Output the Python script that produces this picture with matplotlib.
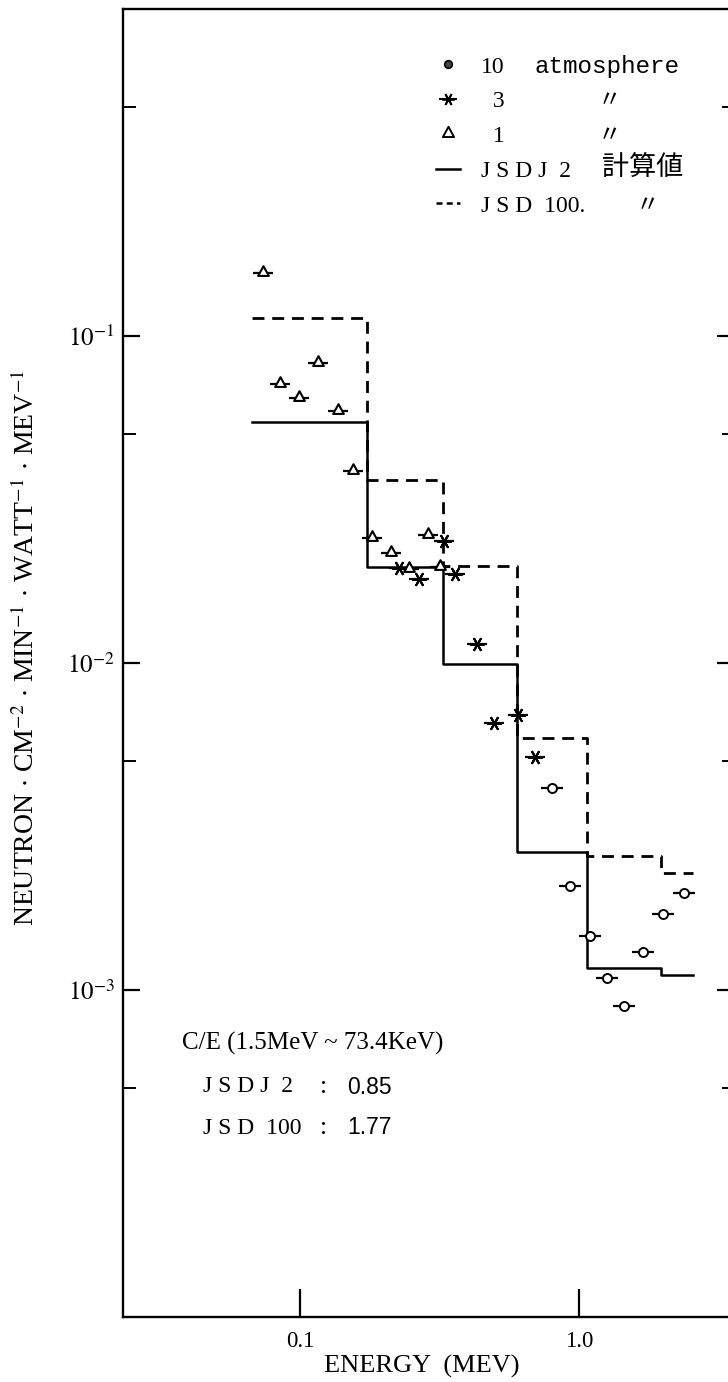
import matplotlib
matplotlib.use("Agg")
import matplotlib.pyplot as plt
from matplotlib.lines import Line2D
from matplotlib.path import Path
from matplotlib.ticker import FixedLocator, FixedFormatter, NullFormatter, NullLocator
from matplotlib.legend_handler import HandlerTuple

plt.rcParams['font.family'] = ['Liberation Serif', 'Noto Sans CJK JP']
plt.rcParams['mathtext.fontset'] = 'stix'

# ---- calculated group fluxes (step histograms) ----
group_edges = [0.06713, 0.1730, 0.3239, 0.5966, 1.068, 1.963, 2.562]
jsdj2_flux = [0.0546, 0.01956, 0.0099, 0.00264, 0.001164, 0.00111]
jsd100_flux = [0.1132, 0.0363, 0.0198, 0.00588, 0.00257, 0.00227]

# ---- measured spectra ----
atm1_energy = [0.0733, 0.0846, 0.0992, 0.116, 0.1368, 0.1549, 0.1803, 0.2109,
               0.2453, 0.2861, 0.3167]
atm1_flux = [0.1553, 0.0711, 0.0644, 0.0823, 0.059, 0.0387, 0.024, 0.0216,
             0.0194, 0.0246, 0.0196]

atm3_energy = [0.2258, 0.267, 0.3281, 0.3584, 0.4288, 0.4946, 0.6045, 0.6936]
atm3_flux = [0.0195, 0.018, 0.0235, 0.0187, 0.0114, 0.00654, 0.00693, 0.00513]

atm10_energy = [0.7963, 0.9262, 1.0924, 1.2539, 1.4463, 1.696, 1.9907, 2.3782]
atm10_flux = [0.00413, 0.00207, 0.00146, 0.001085, 0.000889, 0.001306,
              0.001702, 0.00197]

# ---- axis ticks ----
x_tick_values = [0.1, 1.0]
x_tick_labels = ["0.1", "1.0"]
y_tick_values = [1e-3, 1e-2, 1e-1]
y_tick_labels = [r"$10^{-3}$", r"$10^{-2}$", r"$10^{-1}$"]
y_minor_values = [5e-4, 5e-3, 5e-2, 5e-1]

legend_keys = ["10", "\u20073", "\u20071",
               "J\u2005S\u2005D\u2005J\u20022",
               "J\u2005S\u2005D\u2002100."]
legend_rest = ["atmosphere", "\u3003", "\u3003", "計算値", "\u3003"]

W, H = 728, 1382


def fx(px):
    return px / W


def fy(py):
    return 1 - py / H


fig = plt.figure(figsize=(W / 100, H / 100), dpi=100)
fig.patch.set_facecolor('white')

left_px, right_px, top_px, bottom_px = 123, 734, 8.7, 1316.7
ax = fig.add_axes([fx(left_px), fy(bottom_px),
                   (right_px - left_px) / W, (bottom_px - top_px) / H])
ax.set_xscale('log')
ax.set_yscale('log')
ax.set_xlim(0.02314, 3.585)
ax.set_ylim(1e-4, 1.0)

for s in ax.spines.values():
    s.set_linewidth(1.7)

# histogram steps
ax.step(group_edges, jsdj2_flux + [jsdj2_flux[-1]], where='post',
        color='k', lw=1.8)
ax.step(group_edges, jsd100_flux + [jsd100_flux[-1]], where='post',
        color='k', lw=2.0, ls=(0, (4.3, 2.8)))

# triangle sitting on its bar
tri = Path([(-0.55, -0.25), (0.55, -0.25), (0.0, 0.75), (-0.55, -0.25)],
           [Path.MOVETO, Path.LINETO, Path.LINETO, Path.CLOSEPOLY])
asterisk = (6, 2, 90)

ax.plot(atm1_energy, atm1_flux, ls='none', marker='_', ms=15, mew=1.6,
        color='k', zorder=4)
ax.plot(atm1_energy, atm1_flux, ls='none', marker=tri, ms=10.5, mfc='white',
        mec='k', mew=1.5, zorder=5)

ax.plot(atm3_energy, atm3_flux, ls='none', marker='_', ms=14, mew=1.6,
        color='k', zorder=4)
ax.plot(atm3_energy, atm3_flux, ls='none', marker=asterisk, ms=10.5, mew=1.5,
        color='k', zorder=5)

ax.plot(atm10_energy, atm10_flux, ls='none', marker='_', ms=16, mew=1.6,
        color='k', zorder=4)
ax.plot(atm10_energy, atm10_flux, ls='none', marker='o', ms=6.5, mfc='white',
        mec='k', mew=1.4, zorder=5)

# ticks
ax.xaxis.set_major_locator(FixedLocator(x_tick_values))
ax.xaxis.set_major_formatter(FixedFormatter(x_tick_labels))
ax.xaxis.set_minor_locator(NullLocator())
ax.yaxis.set_major_locator(FixedLocator(y_tick_values))
ax.yaxis.set_major_formatter(FixedFormatter(y_tick_labels))
ax.yaxis.set_minor_locator(FixedLocator(y_minor_values))
ax.yaxis.set_minor_formatter(NullFormatter())

ax.tick_params(axis='x', which='major', direction='in', length=20, width=1.6,
               labelsize=16.5, pad=10, top=False)
ax.tick_params(axis='y', which='major', direction='in', length=12, width=1.6,
               labelsize=18, pad=6, right=True)
ax.tick_params(axis='y', which='minor', direction='in', length=9, width=1.4,
               right=True)

# axis titles
fig.text(fx(422), fy(1366), "ENERGY  (MEV)", fontsize=19, ha='center',
         va='center')
fig.text(fx(26), fy(648),
         r"NEUTRON $\cdot$ CM$^{-2}$ $\cdot$ MIN$^{-1}$ $\cdot$ WATT$^{-1}$ "
         r"$\cdot$ MEV$^{-1}$",
         fontsize=20, rotation=90, ha='center', va='center')

# legend
handles = [
    Line2D([], [], ls='none', marker='o', ms=5.5, mfc='#444444', mec='k',
           mew=1.2),
    (Line2D([], [], ls='none', marker=asterisk, ms=9, color='k', mew=1.3),
     Line2D([], [], ls='none', marker='_', ms=13, color='k', mew=1.5)),
    Line2D([], [], ls='none', marker=tri, ms=11, mfc='white', mec='k',
           mew=1.4),
    Line2D([], [], color='k', lw=1.8),
    Line2D([], [], color='k', lw=1.8, ls=(0, (2.4, 1.7))),
]
leg = fig.legend(handles, legend_keys, loc='upper left',
                 bbox_to_anchor=(fx(436), fy(56)), frameon=False,
                 fontsize=17, handlelength=1.0, handletextpad=0.9,
                 labelspacing=0.56, borderpad=0, borderaxespad=0,
                 handler_map={tuple: HandlerTuple(ndivide=1)})

fig.canvas.draw()
renderer = fig.canvas.get_renderer()
inv = fig.transFigure.inverted()
rest_x = [535, 598, 598, 602, 636]
rest_style = [dict(family=['Liberation Mono'], fontsize=17.5),
              dict(fontsize=17), dict(fontsize=17),
              dict(fontsize=19.5), dict(fontsize=17)]
for txt, rest, px, style in zip(leg.get_texts(), legend_rest, rest_x,
                                rest_style):
    bb = txt.get_window_extent(renderer)
    base_y = inv.transform((0, bb.y0))[1]
    fig.text(fx(px), base_y, rest, ha='left', va='bottom', **style)

# C/E summary
fig.text(fx(182), fy(1043), "C/E (1.5MeV ~ 73.4KeV)", fontsize=18,
         ha='left', va='center')
fig.text(fx(203), fy(1087), "J\u2005S\u2005D\u2005J\u20022", fontsize=17,
         ha='left', va='center')
fig.text(fx(323), fy(1087), ":", fontsize=18, ha='center', va='center')
fig.text(fx(347), fy(1087), "0.85", fontsize=16.5, ha='left', va='center',
         family=['Liberation Sans'])
fig.text(fx(203), fy(1128), "J\u2005S\u2005D\u2002100", fontsize=17,
         ha='left', va='center')
fig.text(fx(323), fy(1128), ":", fontsize=18, ha='center', va='center')
fig.text(fx(347), fy(1128), "1.77", fontsize=16.5, ha='left', va='center',
         family=['Liberation Sans'])

fig.savefig("out.png", dpi=100, facecolor='white')
